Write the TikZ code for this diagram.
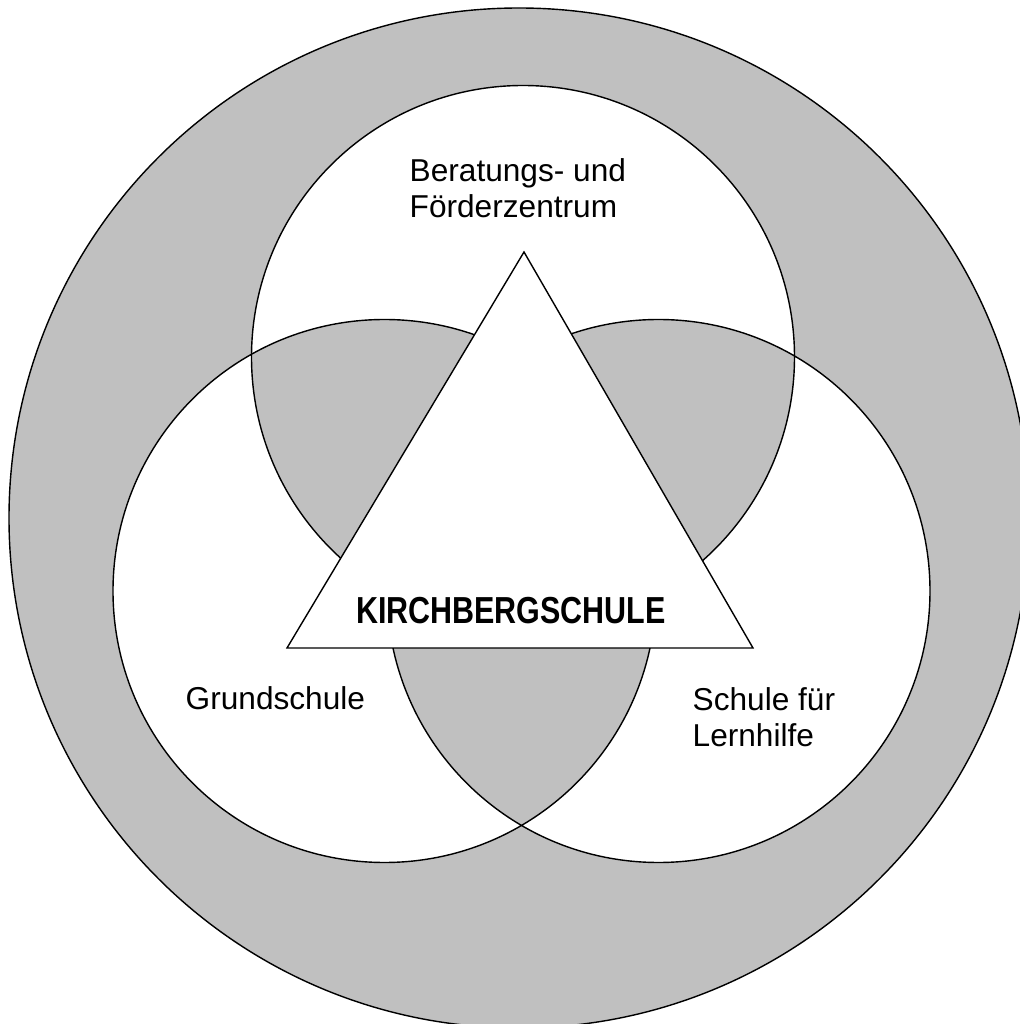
\documentclass[tikz,border=0pt]{standalone}
\usepackage{fontspec}
\setmainfont{Liberation Sans}
\newfontfamily\narrowfont[FakeStretch=0.81]{Liberation Sans}
\usepackage{xcolor}
\definecolor{ringgray}{RGB}{192,192,192}

\begin{document}
\begin{tikzpicture}[every node/.style={inner sep=0pt,align=left,font=\fontsize{9}{10.3}\selectfont},
        outline/.style={draw=black,line width=0.4pt}]
        \useasboundingbox (0,0) rectangle (10.2,10.24);

        \coordinate (outer) at (5.19, 5.06);
        \coordinate (top) at (5.23, 6.67);
        \coordinate (left) at (3.845, 4.33);
        \coordinate (right) at (6.585, 4.33);
        \coordinate (apex) at (5.24, 7.72);
        \coordinate (baseleft) at (2.87, 3.76);
        \coordinate (baseright) at (7.53, 3.76);

        \filldraw[outline,fill=ringgray] (outer) circle (5.10);
        \fill[white] (top) circle (2.715) (left) circle (2.715) (right) circle (2.715);
        \begin{scope}
            \clip (top) circle (2.715);
            \fill[ringgray] (left) circle (2.715) (right) circle (2.715);
        \end{scope}
        \begin{scope}
            \clip (left) circle (2.715);
            \fill[ringgray] (right) circle (2.715);
        \end{scope}
        \draw[outline] (top) circle (2.715) (left) circle (2.715) (right) circle (2.715);
        \filldraw[outline,fill=white] (apex) -- (baseleft) -- (baseright) -- cycle;

        \node[anchor=base west] (zentrum) at (4.09, 8.06) {Beratungs- und\\Förderzentrum};
        \node[anchor=base west] (grundschule) at (1.85, 3.14) {Grundschule};
        \node[anchor=base west] (lernhilfe) at (6.92, 2.77) {Schule für\\Lernhilfe};
        \node[anchor=base,font=\narrowfont\bfseries\fontsize{10.7}{12}\selectfont] (kirchberg) at (5.11, 4.00) {KIRCHBERGSCHULE};
\end{tikzpicture}
\end{document}
